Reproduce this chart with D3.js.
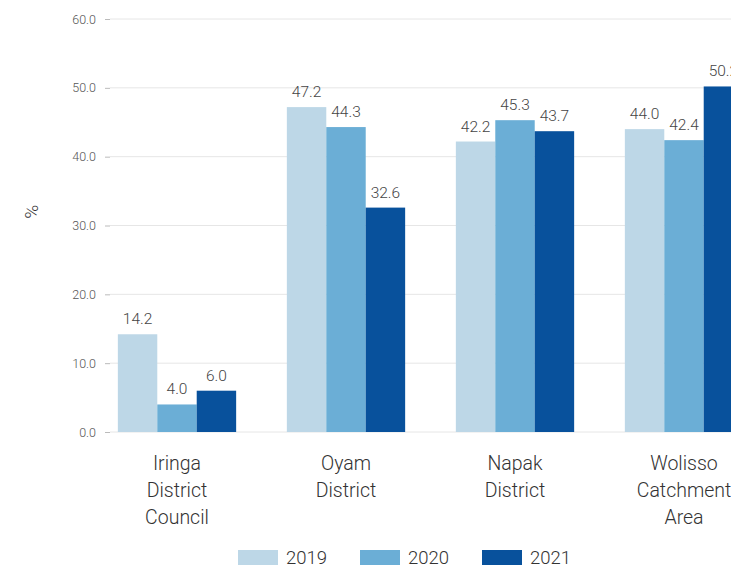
<!DOCTYPE html>
<html>
<head>
<meta charset="utf-8">
<script src="https://cdn.jsdelivr.net/npm/d3@7"></script>
<style>
  body { margin: 0; background: #fff; }
  svg { display: block; overflow: hidden; font-family: Roboto, sans-serif; font-weight: 300; }
</style>
</head>
<body>
<svg id="chart"></svg>
<script>
// data
const places = [
  ["Iringa", "District", "Council"],
  ["Oyam", "District"],
  ["Napak", "District"],
  ["Wolisso", "Catchment", "Area"]
];
const years = ["2019", "2020", "2021"];
const v2019 = [14.2, 47.2, 42.2, 44.0];
const v2020 = [4.0, 44.3, 45.3, 42.4];
const v2021 = [6.0, 32.6, 43.7, 50.2];
const yTicks = [0, 10, 20, 30, 40, 50, 60];
const colors = ["#bdd7e7", "#6baed6", "#08519c"];

const W = 731, H = 568;
const svg = d3.select('#chart').attr('width', W).attr('height', H);

const names = places.map(p => p.join(' '));
const series = [v2019, v2020, v2021];

// scales
const x0 = d3.scaleBand().domain(names).range([92.5, 768.5]).paddingInner(0.3).paddingOuter(0.15);
const x1 = d3.scaleBand().domain(years).range([0, x0.bandwidth()]);
const y = d3.scaleLinear().domain([0, 60]).range([432, 19]);

// grid + y axis
svg.append('g').selectAll('line')
  .data(yTicks)
  .enter()
  .append('line')
  .attr('x1', 110).attr('x2', W)
  .attr('y1', d => y(d)).attr('y2', d => y(d))
  .attr('stroke', '#e6e6e6');

const yAxis = svg.append('g')
  .attr('transform', 'translate(110,0)')
  .call(d3.axisLeft(y).tickValues(yTicks).tickFormat(d3.format('.1f')).tickSize(5).tickPadding(9));
yAxis.select('.domain').remove();
yAxis.selectAll('line').attr('stroke', '#bbb');
yAxis.selectAll('text').attr('font-size', 12.5).attr('fill', '#555').style('font-family', 'Roboto').style('font-weight', 300);

svg.append('text')
  .attr('transform', `translate(38,${y(32)}) rotate(-90)`)
  .attr('text-anchor', 'middle')
  .attr('font-size', 19)
  .attr('fill', '#333')
  .text('%');

// bars
const rows = [];
names.forEach((n, i) => years.forEach((yr, j) => rows.push({ name: n, year: yr, value: series[j][i], c: colors[j] })));

const bars = svg.append('g');
bars.selectAll('rect')
  .data(rows)
  .enter()
  .append('rect')
  .attr('x', d => x0(d.name) + x1(d.year))
  .attr('width', x1.bandwidth())
  .attr('y', d => y(d.value))
  .attr('height', d => y(0) - y(d.value))
  .attr('fill', d => d.c);

bars.selectAll('.label')
  .data(rows)
  .enter()
  .append('text')
  .classed('label', true)
  .attr('x', d => x0(d.name) + x1(d.year) + x1.bandwidth() / 2)
  .attr('y', d => y(d.value) - 10)
  .attr('text-anchor', 'middle')
  .attr('font-size', 15.5)
  .attr('fill', '#444')
  .text(d => d3.format('.1f')(d.value));

// category labels
const cat = svg.append('g').selectAll('text')
  .data(places)
  .enter()
  .append('text')
  .attr('x', (d, i) => x0(names[i]) + x0.bandwidth() / 2)
  .attr('y', 470)
  .attr('text-anchor', 'middle')
  .attr('font-size', 19.5)
  .attr('fill', '#333');
cat.selectAll('tspan')
  .data(d => d)
  .enter()
  .append('tspan')
  .attr('x', function () { return this.parentNode.getAttribute('x'); })
  .attr('dy', (d, i) => i === 0 ? 0 : 27)
  .text(d => d);

// legend
const legX = [238, 360, 482];
const leg = svg.append('g').selectAll('g')
  .data(years)
  .enter()
  .append('g')
  .attr('transform', (d, i) => `translate(${legX[i]},550)`);
leg.append('rect').attr('width', 40).attr('height', 15).attr('fill', (d, i) => colors[i]);
leg.append('text').attr('x', 48).attr('y', 14).attr('font-size', 18.5).attr('fill', '#333').text(d => d);
</script>
</body>
</html>
